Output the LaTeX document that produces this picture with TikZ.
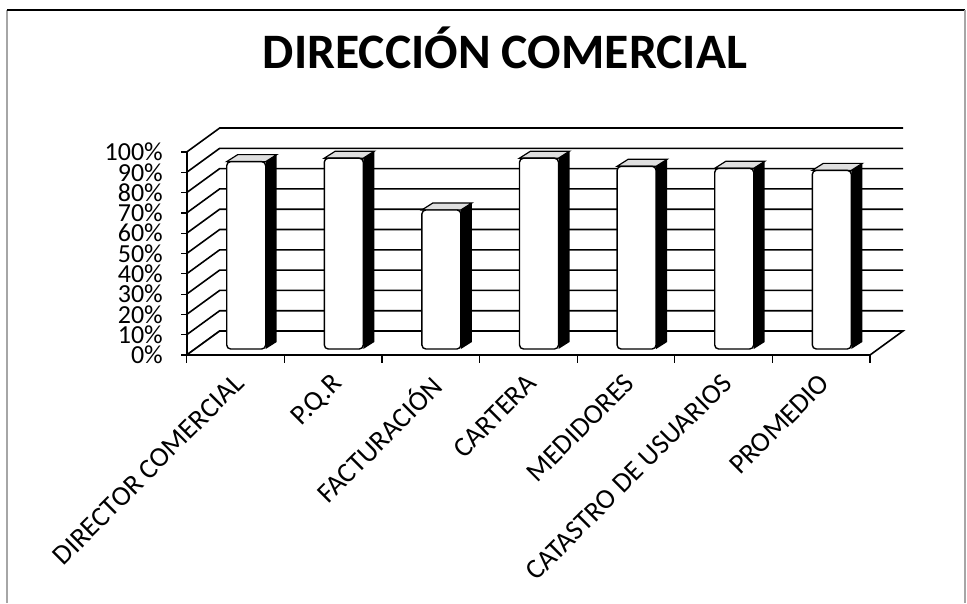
\documentclass[tikz,border=0pt]{standalone}
\usepackage{fontspec}
\setmainfont{Carlito}
\usepackage{tikz}

% one 3D column: left x of front face, value in %
\newcommand{\colbar}[2]{%
  \fill[black] (#1+39,349) -- ++(11,-7) -- (#1+50,342-2.03*#2) -- (#1+39,349-2.03*#2) -- cycle;
  \filldraw[fill=gray!25, line width=1.2pt] (#1,349-2.03*#2) -- ++(11,-7) -- (#1+50,342-2.03*#2) -- (#1+39,349-2.03*#2) -- cycle;
  \draw[line width=1.4pt, fill=white, rounded corners=4pt] (#1,349) rectangle (#1+39,349-2.03*#2);
}

\begin{document}
\begin{tikzpicture}[x=1pt,y=-1pt]
\tikzset{grid/.style = {line width=1.6pt}}
\tikzset{ylab/.style = {anchor=east, inner sep=0pt, font=\fontsize{26}{26}\selectfont}}
\tikzset{xlab/.style = {anchor=north east, rotate=45, inner sep=0pt, font=\fontsize{28}{28}\selectfont}}
\useasboundingbox (0,0) rectangle (967,603);

% frame
\draw[gray!70, line width=1.2pt] (7,603) -- (7,10);
\draw[line width=1.6pt] (7,10) -- (965,10);
\draw[gray!70, line width=1.2pt] (965,10) -- (965,603);

% title
\node[font=\fontsize{49.6}{50}\selectfont\bfseries] (title) at (505,48) {DIRECCIÓN COMERCIAL};

% walls and grid
\draw[grid] (186.7,355) -- ++(33,-24) -- (903,331);
\draw[grid] (186.7,334.7) -- ++(33,-24) -- (903,310.7);
\draw[grid] (186.7,314.4) -- ++(33,-24) -- (903,290.4);
\draw[grid] (186.7,294.1) -- ++(33,-24) -- (903,270.1);
\draw[grid] (186.7,273.8) -- ++(33,-24) -- (903,249.8);
\draw[grid] (186.7,253.5) -- ++(33,-24) -- (903,229.5);
\draw[grid] (186.7,233.2) -- ++(33,-24) -- (903,209.2);
\draw[grid] (186.7,212.9) -- ++(33,-24) -- (903,188.9);
\draw[grid] (186.7,192.6) -- ++(33,-24) -- (903,168.6);
\draw[grid] (186.7,172.3) -- ++(33,-24) -- (903,148.3);
\draw[grid] (186.7,152) -- ++(33,-24) -- (903,128);

% floor
\draw[grid, fill=white] (186.7,355) -- (870,355) -- (903,331) -- (219.7,331) -- cycle;

% value axis
\draw[grid] (186.7,152) -- (186.7,355);
\node[ylab] (p0) at (163,355) {0\%};
\node[ylab] (p10) at (163,334.7) {10\%};
\node[ylab] (p20) at (163,314.4) {20\%};
\node[ylab] (p30) at (163,294.1) {30\%};
\node[ylab] (p40) at (163,273.8) {40\%};
\node[ylab] (p50) at (163,253.5) {50\%};
\node[ylab] (p60) at (163,233.2) {60\%};
\node[ylab] (p70) at (163,212.9) {70\%};
\node[ylab] (p80) at (163,192.6) {80\%};
\node[ylab] (p90) at (163,172.3) {90\%};
\node[ylab] (p100) at (163,152) {100\%};
\draw[line width=1.2pt] (181,355) -- (186.7,355) (181,334.7) -- (186.7,334.7)
  (181,314.4) -- (186.7,314.4) (181,294.1) -- (186.7,294.1) (181,273.8) -- (186.7,273.8)
  (181,253.5) -- (186.7,253.5) (181,233.2) -- (186.7,233.2) (181,212.9) -- (186.7,212.9)
  (181,192.6) -- (186.7,192.6) (181,172.3) -- (186.7,172.3) (181,152) -- (186.7,152);

% category axis ticks
\draw[line width=1.2pt] (186.7,355) -- ++(0,8) (284.3,355) -- ++(0,8) (381.9,355) -- ++(0,8)
  (479.5,355) -- ++(0,8) (577.1,355) -- ++(0,8) (674.7,355) -- ++(0,8)
  (772.3,355) -- ++(0,8) (870,355) -- ++(0,8);

% columns
\colbar{226.7}{92.3}
\colbar{324.3}{94}
\colbar{421.9}{68.5}
\colbar{519.5}{94}
\colbar{617.1}{90}
\colbar{714.7}{89}
\colbar{812.3}{88}

% category labels
\node[xlab] (director) at (232.5,372) {DIRECTOR COMERCIAL};
\node[xlab] (pqr) at (330.1,372) {P.Q.R};
\node[xlab] (facturacion) at (427.7,372) {FACTURACIÓN};
\node[xlab] (cartera) at (525.3,372) {CARTERA};
\node[xlab] (medidores) at (622.9,372) {MEDIDORES};
\node[xlab] (catastro) at (720.5,372) {CATASTRO DE USUARIOS};
\node[xlab] (promedio) at (818.1,372) {PROMEDIO};

\end{tikzpicture}
\end{document}
